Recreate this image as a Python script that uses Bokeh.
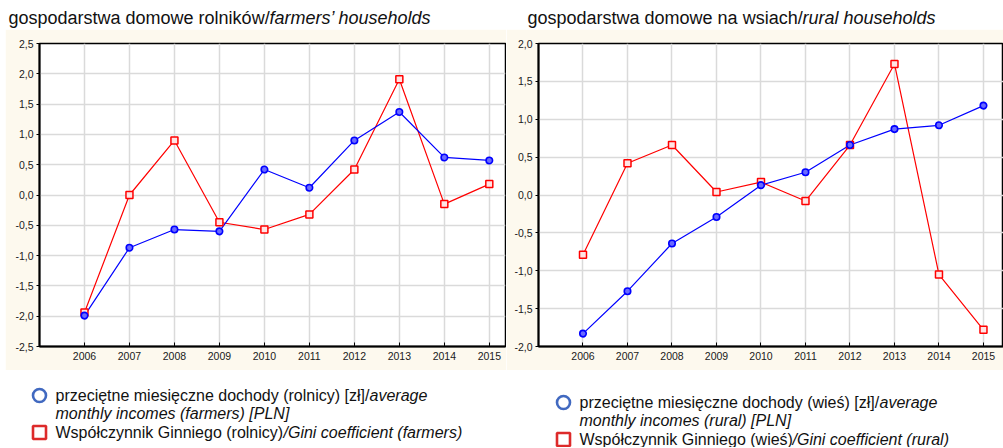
from bokeh.plotting import figure
from bokeh.models import FixedTicker, Range1d, ColumnDataSource, Spacer
from bokeh.layouts import column, row
from bokeh.embed import file_html
from bokeh.resources import INLINE
from bokeh.core.properties import value

# ---------------- data ----------------
years = [2006, 2007, 2008, 2009, 2010, 2011, 2012, 2013, 2014, 2015]

farm_income = [-1.99, -0.87, -0.57, -0.60, 0.42, 0.12, 0.90, 1.37, 0.62, 0.57]
farm_gini = [-1.94, 0.00, 0.90, -0.45, -0.57, -0.32, 0.42, 1.91, -0.15, 0.18]

rural_income = [-1.83, -1.27, -0.64, -0.29, 0.13, 0.30, 0.66, 0.87, 0.92, 1.18]
rural_gini = [-0.79, 0.42, 0.66, 0.04, 0.17, -0.08, 0.66, 1.73, -1.05, -1.78]

left_yticks = [-2.5, -2.0, -1.5, -1.0, -0.5, 0.0, 0.5, 1.0, 1.5, 2.0, 2.5]
right_yticks = [-2.0, -1.5, -1.0, -0.5, 0.0, 0.5, 1.0, 1.5, 2.0]

left_title = ("gospodarstwa domowe rolników/", "farmers\u2019 households")
right_title = ("gospodarstwa domowe na wsiach/", "rural households")

left_legend = [
    ("przeciętne miesięczne dochody (rolnicy) [zł]/", "average"),
    ("", "monthly incomes (farmers) [PLN]"),
    ("Współczynnik Ginniego (rolnicy)", "/Gini coefficient (farmers)"),
]
right_legend = [
    ("przeciętne miesięczne dochody (wieś) [zł]/", "average"),
    ("", "monthly incomes (rural) [PLN]"),
    ("Współczynnik Ginniego (wieś)", "/Gini coefficient (rural)"),
]

# ---------------- style ----------------
FONT = "Liberation Sans"
CREAM = "#fdf9ee"
BLUE = "#0000ff"
RED = "#ff0000"
GRID = "#dadada"
TXT = "#111111"


def blank(width, height):
    p = figure(width=width, height=height, output_backend="svg", toolbar_location=None,
               x_axis_type=None, y_axis_type=None, min_border=0,
               x_range=Range1d(0, width), y_range=Range1d(height, 0))
    p.outline_line_color = None
    p.grid.visible = False
    p.background_fill_color = "white"
    p.border_fill_color = "white"
    return p


def title_fig(width, parts, x0, x_it, y):
    p = blank(width, 29)
    p.text(x=[x0], y=[y], text=[parts[0]], text_font=value(FONT), text_font_size="18px",
           text_color=TXT, text_baseline="alphabetic")
    p.text(x=[x_it], y=[y], text=[parts[1]], text_font=value(FONT), text_font_size="18px",
           text_font_style="italic", text_color=TXT, text_baseline="alphabetic")
    return p


def legend_fig(width, lines, mx, tx, ys, it_x):
    p = blank(width, 77)
    p.scatter(x=[mx], y=[ys[0]], marker="circle", size=13, fill_color=None,
              line_color="#4169c0", line_width=2.6)
    p.scatter(x=[mx], y=[ys[2]], marker="square", size=13, fill_color=None,
              line_color="#dd2a2a", line_width=2.6)
    for (rom, ita), yy, ix in zip(lines, ys, it_x):
        if rom:
            p.text(x=[tx], y=[yy], text=[rom], text_font=value(FONT), text_font_size="16px",
                   text_color=TXT, text_baseline="middle")
        p.text(x=[ix], y=[yy], text=[ita], text_font=value(FONT), text_font_size="16px",
               text_font_style="italic", text_color=TXT, text_baseline="middle")
    return p


def chart_fig(width, xr, yr, yticks, income, gini, bl, br, bt, bb):
    p = figure(width=width, height=341, output_backend="svg", toolbar_location=None,
               x_range=Range1d(*xr), y_range=Range1d(*yr),
               min_border_left=bl, min_border_right=br, min_border_top=bt, min_border_bottom=bb)
    p.background_fill_color = "white"
    p.border_fill_color = CREAM
    p.outline_line_color = "black"
    p.outline_line_width = 1.5

    p.xaxis.ticker = FixedTicker(ticks=years)
    p.yaxis.ticker = FixedTicker(ticks=yticks)
    p.yaxis.major_label_overrides = {t: f"{t:.1f}".replace(".", ",") for t in yticks}
    for ax in (p.xaxis[0], p.yaxis[0]):
        ax.axis_line_color = "black"
        ax.axis_line_width = 2
        ax.major_tick_line_color = "black"
        ax.minor_tick_line_color = None
        ax.major_label_text_font = FONT
        ax.major_label_text_font_size = "10.5px"
        ax.major_label_text_color = "#1a1a1a"
    p.xaxis.major_tick_in = 4
    p.xaxis.major_tick_out = 0
    p.xaxis.major_label_standoff = 5
    p.yaxis.major_tick_in = 0
    p.yaxis.major_tick_out = 3
    p.yaxis.major_label_standoff = 3

    p.xgrid.ticker = FixedTicker(ticks=years)
    p.ygrid.ticker = FixedTicker(ticks=yticks)
    p.grid.grid_line_color = GRID
    p.grid.grid_line_width = 1.5

    src = ColumnDataSource(dict(x=years, inc=income, gini=gini))
    p.line("x", "gini", source=src, line_color=RED, line_width=1.2)
    p.line("x", "inc", source=src, line_color=BLUE, line_width=1.2)
    p.scatter("x", "gini", source=src, marker="square", size=7, line_color=RED,
              line_width=1.5, fill_color="#ffe4e4")
    p.scatter("x", "inc", source=src, marker="circle", size=6.5, line_color=BLUE,
              line_width=1.6, fill_color="#6a6aff")
    return p


# ---------------- panels ----------------
LW, RW = 506, 497

t_left = title_fig(LW, left_title, 8, 269, 17)
t_right = title_fig(RW, right_title, 21, 296, 17)

c_left = chart_fig(501, (2005, 2015.36), (-2.5, 2.5), left_yticks, farm_income, farm_gini,
                   34, 1, 14, 24)
c_right = chart_fig(RW, (2005, 2015.45), (-2.0, 2.0), right_yticks, rural_income, rural_gini,
                    32, 0, 14, 22)

l_left = legend_fig(LW, left_legend, 39, 55, [25, 43, 62], [369, 55, 283])
l_right = legend_fig(RW, right_legend, 57, 73, [32, 50, 69], [373, 73, 286])

layout = column(row(t_left, t_right),
                row(Spacer(width=5, height=341), c_left, c_right),
                row(l_left, l_right))

open("out.html", "w").write(file_html(layout, INLINE))
